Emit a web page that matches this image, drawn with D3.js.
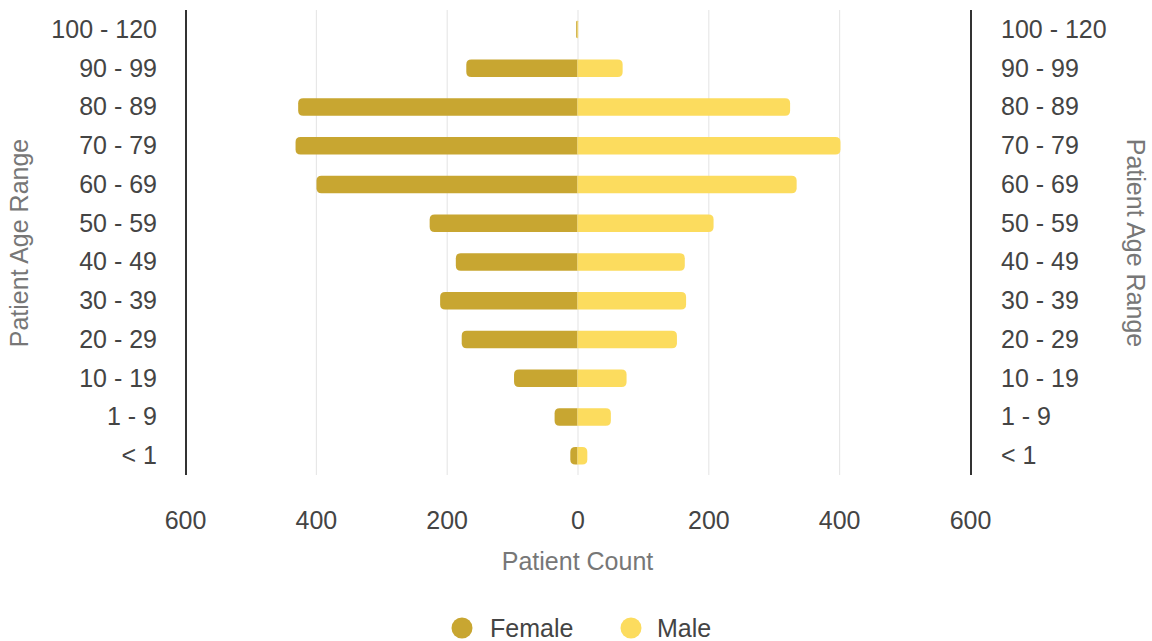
<!DOCTYPE html>
<html>
<head>
<meta charset="utf-8">
<script src="https://cdn.jsdelivr.net/npm/d3@7/dist/d3.min.js"></script>
<style>
  html, body { margin: 0; padding: 0; background: #ffffff; }
  svg { display: block; font-family: "Liberation Sans", Arial, sans-serif; }
</style>
</head>
<body>
<svg id="chart" width="1152" height="641"></svg>
<script>
// Age bands, oldest at the top
const ageRanges = ["100 - 120", "90 - 99", "80 - 89", "70 - 79", "60 - 69", "50 - 59",
                   "40 - 49", "30 - 39", "20 - 29", "10 - 19", "1 - 9", "< 1"];
// Patient counts per band
const femaleCounts = [2, 170, 427, 431, 399, 226, 186, 210, 177, 97, 35, 11];
const maleCounts   = [1, 69, 325, 402, 335, 208, 164, 166, 152, 75, 51, 15];
// Count axis ticks (labels shown as absolute values)
const countTicks = [-600, -400, -200, 0, 200, 400, 600];
const seriesNames = ["Female", "Male"];

const colors = { Female: "#c8a631", Male: "#fcdc5e" };
const fontSize = 25;
const svg = d3.select("#chart");

const x = d3.scaleLinear().domain([-600, 600]).range([185, 970]);
const y = d3.scalePoint().domain(ageRanges).range([10, 475]).padding(0.5);
const barH = 17.5;
const r = 5;

// vertical grid lines
svg.append("g").selectAll("line")
  .data(countTicks.filter(t => Math.abs(t) !== 600))
  .join("line")
  .attr("x1", d => x(d) + 0.5).attr("x2", d => x(d) + 0.5)
  .attr("y1", 10).attr("y2", 475)
  .attr("stroke", "#e3e3e3").attr("stroke-width", 1);

// bar with rounded outer end; side = -1 grows left, +1 grows right
function barPath(v, side, cy) {
  const x0 = x(0);
  const x1 = x(side * v);
  const w = Math.abs(x1 - x0);
  const rr = Math.min(r, w, barH / 2);
  const top = cy - barH / 2, bot = cy + barH / 2;
  const p = d3.path();
  p.moveTo(x0, top);
  p.lineTo(x1 - side * rr, top);
  p.quadraticCurveTo(x1, top, x1, top + rr);
  p.lineTo(x1, bot - rr);
  p.quadraticCurveTo(x1, bot, x1 - side * rr, bot);
  p.lineTo(x0, bot);
  p.closePath();
  return p.toString();
}

const bars = svg.append("g");
bars.selectAll("path.female")
  .data(ageRanges.map((a, i) => ({ a, v: femaleCounts[i] })))
  .join("path")
  .attr("class", "female")
  .attr("fill", colors.Female)
  .attr("d", d => barPath(d.v, -1, y(d.a)));
bars.selectAll("path.male")
  .data(ageRanges.map((a, i) => ({ a, v: maleCounts[i] })))
  .join("path")
  .attr("class", "male")
  .attr("fill", colors.Male)
  .attr("d", d => barPath(d.v, 1, y(d.a)));

// left and right category axes
const leftAxis = d3.axisLeft(y).tickSize(0).tickPadding(29);
const gl = svg.append("g").attr("transform", `translate(${x(-600) + 1},0)`).call(leftAxis);
const rightAxis = d3.axisRight(y).tickSize(0).tickPadding(30);
const gr = svg.append("g").attr("transform", `translate(${x(600) + 1},0)`).call(rightAxis);
[gl, gr].forEach(g => {
  g.select(".domain").remove();
  g.selectAll("text").attr("font-size", fontSize).attr("fill", "#444")
    .attr("font-family", "'Liberation Sans', Arial, sans-serif");
});
[x(-600) + 1, x(600) + 1].forEach(px => {
  svg.append("line").attr("x1", px).attr("x2", px).attr("y1", 10).attr("y2", 475)
    .attr("stroke", "#333").attr("stroke-width", 2);
});

// count axis at the bottom
const bottomAxis = d3.axisBottom(x).tickValues(countTicks).tickSize(0).tickPadding(0)
  .tickFormat(d => String(Math.abs(d)));
const gb = svg.append("g").attr("transform", "translate(0,511)").call(bottomAxis);
gb.select(".domain").remove();
gb.selectAll("text").attr("font-size", fontSize).attr("fill", "#444")
  .attr("font-family", "'Liberation Sans', Arial, sans-serif");

// axis titles
svg.append("text").attr("x", x(0)).attr("y", 570).attr("text-anchor", "middle")
  .attr("font-size", fontSize).attr("fill", "#777").text("Patient Count");
svg.append("text").attr("transform", "translate(28,243) rotate(-90)")
  .attr("text-anchor", "middle").attr("font-size", fontSize).attr("fill", "#777")
  .text("Patient Age Range");
svg.append("text").attr("transform", "translate(1127,243) rotate(90)")
  .attr("text-anchor", "middle").attr("font-size", fontSize).attr("fill", "#777")
  .text("Patient Age Range");

// legend
const legendPos = [{ cx: 462, tx: 490 }, { cx: 631, tx: 657 }];
const lg = svg.append("g").selectAll("g").data(seriesNames).join("g");
lg.append("circle").attr("cx", (d, i) => legendPos[i].cx).attr("cy", 628).attr("r", 10.5)
  .attr("fill", d => colors[d]);
lg.append("text").attr("x", (d, i) => legendPos[i].tx).attr("y", 628).attr("dy", "0.35em")
  .attr("font-size", fontSize).attr("fill", "#444").text(d => d);
</script>
</body>
</html>
